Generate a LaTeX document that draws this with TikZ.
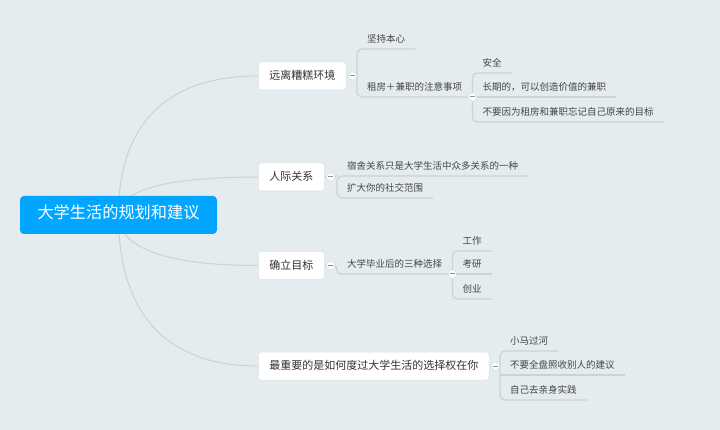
\documentclass[tikz,border=0pt]{standalone}
\usepackage{fontspec}
\setmainfont{Noto Sans CJK SC}
\usetikzlibrary{calc,positioning}
\definecolor{BgClr}{HTML}{E5ECF0}
\definecolor{RootClr}{HTML}{00A6FF}
\definecolor{LineClr}{HTML}{CCD3D7}
\definecolor{BoxLineClr}{HTML}{DCE2E6}
\definecolor{FoldClr}{HTML}{D5DBDF}
\definecolor{MinusClr}{HTML}{8C9398}
\definecolor{TopicTxtClr}{HTML}{333333}
\definecolor{LeafTxtClr}{HTML}{444444}
\pgfdeclarelayer{back}
\pgfdeclarelayer{links}
\pgfsetlayers{back,links,main}

\begin{document}
\begin{tikzpicture}[x=1pt,y=-1pt,
  root/.style={fill=RootClr,text=white,rounded corners=4pt,minimum width=197pt,
    minimum height=38pt,inner sep=0pt,font=\fontsize{16.2}{16.2}\selectfont,
    text height=.88em,text depth=.12em},
  topic/.style={fill=white,draw=BoxLineClr,line width=.5pt,rounded corners=3pt,
    anchor=west,minimum height=28pt,inner xsep=11pt,inner ysep=0pt,text=TopicTxtClr,
    font=\fontsize{11}{11}\selectfont,text height=.88em,text depth=.12em},
  leaf/.style={anchor=south west,minimum height=20pt,inner xsep=10pt,inner ysep=0pt,
    text=LeafTxtClr,font=\fontsize{9.5}{9.5}\selectfont,text height=.88em,text depth=.12em},
  fold/.style={circle,fill=white,draw=FoldClr,line width=.5pt,minimum size=8.5pt,inner sep=0pt,
    path picture={\draw[MinusClr,line width=1pt]
      ([xshift=-2.2pt]path picture bounding box.center) -- ([xshift=2.2pt]path picture bounding box.center);}},
  link/.style={draw=LineClr,line width=1pt},
  ubar/.style={draw=LineClr,line width=1.2pt,rounded corners=5pt}]

\useasboundingbox (0,0) rectangle (720,430);
\begin{pgfonlayer}{back}
\fill[BgClr] (0,0) rectangle (720,430);
\end{pgfonlayer}

% centre and main topics
\node[root] (root) at (118.5,215) {大学生活的规划和建议};
\node[topic] (a1) at (258,76) {远离糟糕环境};
\node[topic] (a2) at (258,177) {人际关系};
\node[topic] (a3) at (258,265.5) {确立目标};
\node[topic] (a4) at (258,366) {最重要的是如何度过大学生活的选择权在你};

% subtopics
\node[leaf] (c1) at (357,49) {坚持本心};
\node[leaf] (c2) at (357,97) {租房＋兼职的注意事项};
\node[leaf] (d1) at ([yshift=24pt]c2.south east) {安全};
\node[leaf] (d2) at (c2.south east) {长期的，可以创造价值的兼职};
\node[leaf] (d3) at ([yshift=-25pt]c2.south east) {不要因为租房和兼职忘记自己原来的目标};

\node[leaf] (e1) at (337,176) {宿舍关系只是大学生活中众多关系的一种};
\node[leaf] (e2) at (337,198) {扩大你的社交范围};

\node[leaf] (f1) at (337,274) {大学毕业后的三种选择};
\node[leaf] (g1) at ([yshift=23pt]f1.south east) {工作};
\node[leaf] (g2) at (f1.south east) {考研};
\node[leaf] (g3) at ([yshift=-25pt]f1.south east) {创业};

\node[leaf] (h1) at (500,351) {小马过河};
\node[leaf] (h2) at (500,375) {不要全盘照收别人的建议};
\node[leaf] (h3) at (500,400) {自己去亲身实践};

% fold markers
\node[fold] (m1) at ([xshift=6pt]a1.east) {};
\node[fold] (m2) at ([xshift=6pt]a2.east) {};
\node[fold] (m3) at ([xshift=6pt]a3.east) {};
\node[fold] (m4) at ([xshift=6pt]a4.east) {};
\node[fold] (m21) at (c2.south east) {};
\node[fold] (m31) at (f1.south east) {};

\begin{pgfonlayer}{links}
\foreach \t in {a1,a2,a3,a4}{
  \draw[link] (root.center) .. controls ($(root.center)!0.68!(root.center |- \t.west)$)
    and ($(\t.west)!0.63!(root.center |- \t.west)$) .. (\t.west);
  }
\foreach \t/\m in {a1/m1,a2/m2,a3/m3,a4/m4}
  \draw[link] (\t.east) -- (\m);

\draw[ubar] (m1) -- (m1 -| c1.south west);
\draw[ubar] (c1.south east) -- (c1.south west) -- (c2.south west) -- (c2.south east);
\draw[ubar] (d1.south east) -- (d1.south west) -- (d3.south west) -- (d3.south east);
\draw[ubar] (d2.south west) -- (d2.south east);

\draw[ubar] (m2) -- (e1.south west);
\draw[ubar] (e1.south east) -- (e1.south west) -- (e2.south west) -- (e2.south east);

\draw[ubar,rounded corners=4pt] (m3) -- (m3 -| f1.south west) -- (f1.south west) -- (f1.south east);
\draw[ubar] (g1.south east) -- (g1.south west) -- (g3.south west) -- (g3.south east);
\draw[ubar] (g2.south west) -- (g2.south east);

\draw[ubar] (m4) -- (m4 -| h1.south west);
\draw[ubar] (h1.south east) -- (h1.south west) -- (h3.south west) -- (h3.south east);
\draw[ubar] (h2.south west) -- (h2.south east);
\end{pgfonlayer}

\end{tikzpicture}
\end{document}
